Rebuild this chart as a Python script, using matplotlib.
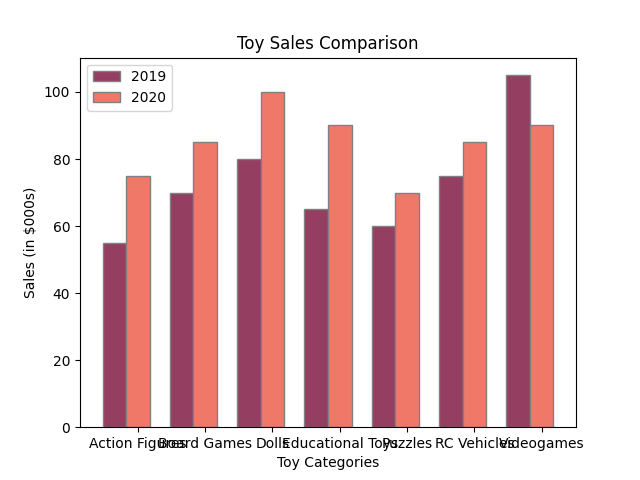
import matplotlib
matplotlib.use("Agg")
import matplotlib.pyplot as plt
import numpy as np

categories = ["Action Figures", "Board Games", "Dolls", "Educational Toys", "Puzzles", "RC Vehicles", "Videogames"]
sales_2019 = [55, 70, 80, 65, 60, 75, 105]
sales_2020 = [75, 85, 100, 90, 70, 85, 90]

bar_width = 0.35
r1 = np.arange(len(categories))
r2 = r1 + bar_width

fig, ax = plt.subplots(figsize=(6.4, 4.8), dpi=100)
ax.bar(r1, sales_2019, width=bar_width, color="#943e62", edgecolor="grey", label="2019")
ax.bar(r2, sales_2020, width=bar_width, color="#f07868", edgecolor="grey", label="2020")

ax.set_xticks(r2)
ax.set_xticklabels(categories)
ax.set_xlabel("Toy Categories")
ax.set_ylabel("Sales (in $000s)")
ax.set_title("Toy Sales Comparison")
ax.legend(loc="upper left")

fig.savefig("out.png")
